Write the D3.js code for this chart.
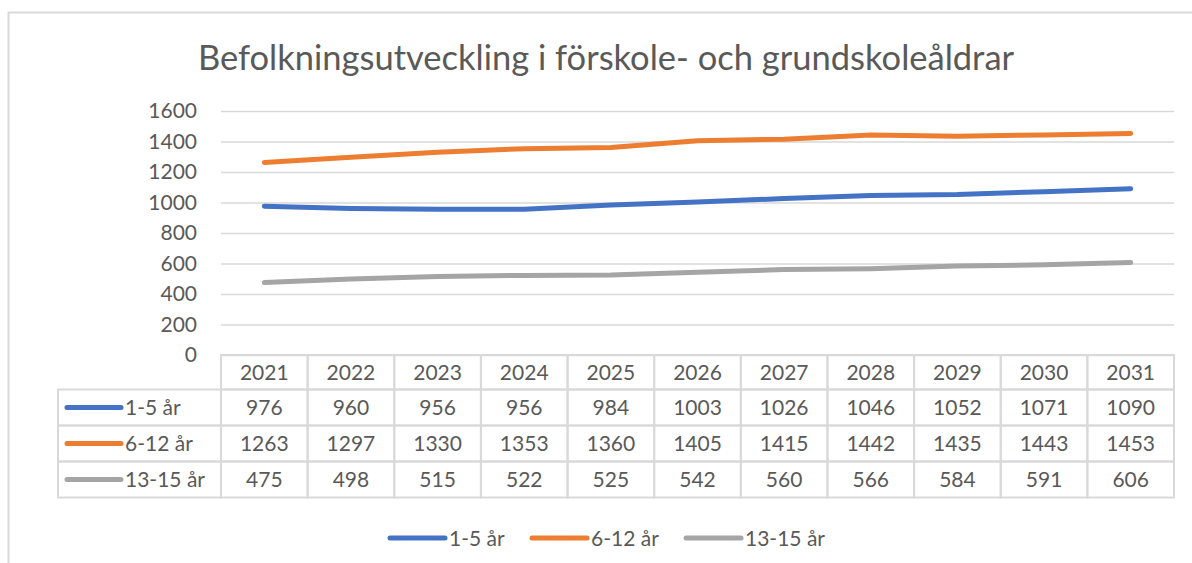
<!DOCTYPE html>
<html>
<head>
<meta charset="utf-8">
<script src="https://cdn.jsdelivr.net/npm/d3@7"></script>
<style>
	body { margin: 0; background: #fff; }
	svg { display: block; font-family: Lato, 'Noto Sans', sans-serif; }
</style>
</head>
<body>
<div id="chart"></div>
<script>
var years = ['2021', '2022', '2023', '2024', '2025', '2026', '2027', '2028', '2029', '2030', '2031'];
var seriesNames = ['1-5 år', '6-12 år', '13-15 år'];
var seriesColors = ['#4472C4', '#ED7D31', '#A5A5A5'];
var age1to5 = [976, 960, 956, 956, 984, 1003, 1026, 1046, 1052, 1071, 1090];
var age6to12 = [1263, 1297, 1330, 1353, 1360, 1405, 1415, 1442, 1435, 1443, 1453];
var age13to15 = [475, 498, 515, 522, 525, 542, 560, 566, 584, 591, 606];
var yTicks = [0, 200, 400, 600, 800, 1000, 1200, 1400, 1600];

var series = [age1to5, age6to12, age13to15];

var width = 1192, height = 563;
var textColor = '#595959';
var gridColor = '#d9d9d9';
var fontSize = '21px';

var svg = d3.select('#chart').append('svg')
	.attr('width', width)
	.attr('height', height);

// outer chart border (only left and top visible in the picture)
svg.append('rect')
	.attr('x', 8.5)
	.attr('y', 12.5)
	.attr('width', 1300)
	.attr('height', 700)
	.attr('fill', 'none')
	.attr('stroke', gridColor)
	.attr('stroke-width', 2);

svg.append('text')
	.attr('x', 606)
	.attr('y', 70)
	.attr('text-anchor', 'middle')
	.attr('fill', textColor)
	.style('font-size', '34.5px')
	.text('Befolkningsutveckling i förskole- och grundskoleåldrar');

var plotLeft = 221, plotRight = 1174;

var xScale = d3.scaleBand()
	.domain(years)
	.range([plotLeft, plotRight]);

var yScale = d3.scaleLinear()
	.domain([0, 1600])
	.range([355, 111]);

var yAxis = d3.axisLeft(yScale)
	.tickValues(yTicks)
	.tickFormat(d3.format('d'))
	.tickSize(-(plotRight - plotLeft))
	.tickPadding(24);

var yAxisG = svg.append('g')
	.attr('transform', 'translate(' + plotLeft + ',0)')
	.call(yAxis);

yAxisG.select('.domain').remove();
yAxisG.selectAll('.tick line')
	.attr('stroke', gridColor)
	.attr('stroke-width', 1.3);
yAxisG.selectAll('.tick text')
	.attr('fill', textColor)
	.style('font-size', fontSize)
	.style('font-family', 'Lato, sans-serif');

// lines
var line = d3.line()
	.x(function(d, i) { return xScale(years[i]) + xScale.bandwidth() / 2; })
	.y(function(d) { return yScale(d); });

series.forEach(function(values, k) {
	svg.append('path')
		.attr('d', line(values))
		.attr('fill', 'none')
		.attr('stroke', seriesColors[k])
		.attr('stroke-width', 5)
		.attr('stroke-linecap', 'round')
		.attr('stroke-linejoin', 'round');
});

// data table
var tableLeft = 58;
var rowEdges = [355, 389.5, 425.5, 461.5, 497.5];
var tableG = svg.append('g');

// header cells
years.forEach(function(y) {
	tableG.append('rect')
		.attr('x', xScale(y))
		.attr('y', rowEdges[0])
		.attr('width', xScale.bandwidth())
		.attr('height', rowEdges[1] - rowEdges[0])
		.attr('fill', 'none')
		.attr('stroke', gridColor)
		.attr('stroke-width', 2);
	tableG.append('text')
		.attr('x', xScale(y) + xScale.bandwidth() / 2)
		.attr('y', (rowEdges[0] + rowEdges[1]) / 2 + 7.5)
		.attr('text-anchor', 'middle')
		.attr('fill', textColor)
		.style('font-size', fontSize)
		.text(y);
});

series.forEach(function(values, k) {
	var top = rowEdges[k + 1], bottom = rowEdges[k + 2];
	var mid = (top + bottom) / 2;

	tableG.append('rect')
		.attr('x', tableLeft)
		.attr('y', top)
		.attr('width', plotLeft - tableLeft)
		.attr('height', bottom - top)
		.attr('fill', 'none')
		.attr('stroke', gridColor)
		.attr('stroke-width', 2);

	tableG.append('line')
		.attr('x1', 67)
		.attr('x2', 121)
		.attr('y1', mid)
		.attr('y2', mid)
		.attr('stroke', seriesColors[k])
		.attr('stroke-width', 5)
		.attr('stroke-linecap', 'round');

	tableG.append('text')
		.attr('x', 125)
		.attr('y', mid + 7.5)
		.attr('fill', textColor)
		.style('font-size', fontSize)
		.text(seriesNames[k]);

	values.forEach(function(v, i) {
		tableG.append('rect')
			.attr('x', xScale(years[i]))
			.attr('y', top)
			.attr('width', xScale.bandwidth())
			.attr('height', bottom - top)
			.attr('fill', 'none')
			.attr('stroke', gridColor)
			.attr('stroke-width', 2);
		tableG.append('text')
			.attr('x', xScale(years[i]) + xScale.bandwidth() / 2)
			.attr('y', mid + 7.5)
			.attr('text-anchor', 'middle')
			.attr('fill', textColor)
			.style('font-size', fontSize)
			.text(v);
	});
});

// legend
var legendX = [390, 532, 686];
var legend = svg.append('g');
seriesNames.forEach(function(name, k) {
	legend.append('line')
		.attr('x1', legendX[k])
		.attr('x2', legendX[k] + 55)
		.attr('y1', 538)
		.attr('y2', 538)
		.attr('stroke', seriesColors[k])
		.attr('stroke-width', 5)
		.attr('stroke-linecap', 'round');
	legend.append('text')
		.attr('x', legendX[k] + 59)
		.attr('y', 545.5)
		.attr('fill', textColor)
		.style('font-size', fontSize)
		.text(name);
});
</script>
</body>
</html>
